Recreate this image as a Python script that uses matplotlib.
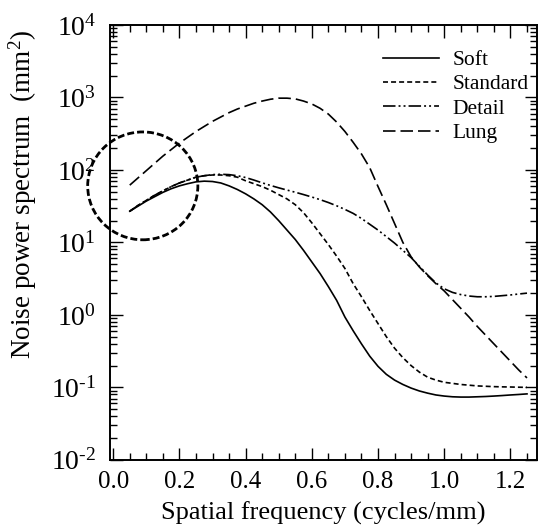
import matplotlib
matplotlib.use("Agg")
import matplotlib.pyplot as plt
from matplotlib.patches import Ellipse

plt.rcParams['font.family'] = ['Liberation Serif', 'DejaVu Serif']
plt.rcParams['mathtext.fontset'] = 'custom'
plt.rcParams['mathtext.rm'] = 'Liberation Serif'
plt.rcParams['mathtext.it'] = 'Liberation Serif:italic'
plt.rcParams['lines.scale_dashes'] = False

# spatial frequency samples (cycles/mm)
freq = [0.050, 0.075, 0.100, 0.125, 0.150, 0.175, 0.200, 0.225, 0.250, 0.275,
        0.300, 0.325, 0.350, 0.375, 0.400, 0.425, 0.450, 0.475, 0.500, 0.525,
        0.550, 0.575, 0.600, 0.625, 0.650, 0.675, 0.700, 0.725, 0.750, 0.775,
        0.800, 0.825, 0.850, 0.875, 0.900, 0.925, 0.950, 0.975, 1.000, 1.025,
        1.050, 1.075, 1.100, 1.125, 1.150, 1.175, 1.200, 1.225, 1.250]

# NPS values, stored as log10(mm^2)
log_soft = [1.43, 1.50, 1.57, 1.63, 1.69, 1.74, 1.78, 1.81, 1.835, 1.845,
            1.84, 1.82, 1.78, 1.73, 1.67, 1.60, 1.52, 1.42, 1.30, 1.17,
            1.04, 0.89, 0.73, 0.57, 0.39, 0.20, -0.03, -0.22, -0.40, -0.57,
            -0.71, -0.82, -0.90, -0.96, -1.01, -1.05, -1.08, -1.105, -1.12, -1.13,
            -1.134, -1.134, -1.13, -1.126, -1.12, -1.113, -1.105, -1.098, -1.09]
log_standard = [1.43, 1.51, 1.58, 1.65, 1.71, 1.77, 1.82, 1.86, 1.90, 1.92,
                1.93, 1.93, 1.92, 1.90, 1.85, 1.81, 1.77, 1.72, 1.66, 1.60,
                1.52, 1.41, 1.27, 1.12, 0.97, 0.81, 0.64, 0.43, 0.25, 0.06,
                -0.12, -0.30, -0.46, -0.59, -0.70, -0.79, -0.86, -0.90, -0.93, -0.945,
                -0.96, -0.97, -0.98, -0.985, -0.99, -0.993, -0.995, -0.998, -1.00]
log_detail = [1.43, 1.51, 1.58, 1.65, 1.71, 1.77, 1.82, 1.86, 1.90, 1.92,
              1.935, 1.94, 1.935, 1.92, 1.895, 1.86, 1.822, 1.786, 1.753, 1.722,
              1.692, 1.66, 1.626, 1.59, 1.55, 1.505, 1.455, 1.40, 1.33, 1.25,
              1.17, 1.08, 0.99, 0.89, 0.79, 0.67, 0.55, 0.44, 0.36, 0.31,
              0.28, 0.26, 0.25, 0.25, 0.255, 0.265, 0.275, 0.288, 0.30]
log_lung = [1.79, 1.89, 1.99, 2.09, 2.19, 2.28, 2.37, 2.45, 2.53, 2.60,
            2.67, 2.73, 2.79, 2.84, 2.88, 2.92, 2.95, 2.975, 2.99, 2.99,
            2.98, 2.95, 2.91, 2.85, 2.77, 2.66, 2.53, 2.38, 2.22, 2.03,
            1.77, 1.52, 1.26, 1.00, 0.80, 0.66, 0.54, 0.43, 0.33, 0.21,
            0.09, -0.03, -0.16, -0.28, -0.40, -0.52, -0.64, -0.76, -0.87]

nps_soft = [10 ** v for v in log_soft]
nps_standard = [10 ** v for v in log_standard]
nps_detail = [10 ** v for v in log_detail]
nps_lung = [10 ** v for v in log_lung]

labels = ['Soft', 'Standard', 'Detail', 'Lung']
y_ticks = [1e-2, 1e-1, 1e0, 1e1, 1e2, 1e3, 1e4]
y_ticklabels = [r'$\mathregular{10^{‐2}}$', r'$\mathregular{10^{‐1}}$',
                r'$\mathregular{10^{0}}$', r'$\mathregular{10^{1}}$',
                r'$\mathregular{10^{2}}$', r'$\mathregular{10^{3}}$',
                r'$\mathregular{10^{4}}$']
x_ticks = [0.0, 0.2, 0.4, 0.6, 0.8, 1.0, 1.2]

fig = plt.figure(figsize=(5.44, 5.31), dpi=100)
ax = fig.add_axes([0.202, 0.134, 0.785, 0.819])

lw = 1.2
ax.plot(freq, nps_soft, color='black', lw=lw, label=labels[0])
ax.plot(freq, nps_standard, color='black', lw=lw, label=labels[1],
        dashes=(3.6, 2.2))
ax.plot(freq, nps_detail, color='black', lw=lw, label=labels[2],
        dashes=(9, 2.2, 1.4, 2.2, 1.4, 2.2))
ax.plot(freq, nps_lung, color='black', lw=lw, label=labels[3],
        dashes=(9, 3.6))

ax.set_yscale('log')
ax.set_ylim(1e-2, 1e4)
ax.set_xlim(-0.01, 1.28)
ax.set_yticks(y_ticks)
ax.set_yticklabels(y_ticklabels)
ax.set_xticks(x_ticks)
ax.set_xticklabels(['%.1f' % t for t in x_ticks])
ax.xaxis.set_minor_locator(matplotlib.ticker.MultipleLocator(0.05))
ax.yaxis.set_minor_locator(matplotlib.ticker.LogLocator(base=10, subs=range(2, 10), numticks=20))
ax.yaxis.set_minor_formatter(matplotlib.ticker.NullFormatter())

ax.tick_params(which='both', direction='in', top=True, right=True,
               width=1.0, colors='black')
ax.tick_params(which='major', length=9)
ax.tick_params(which='minor', length=5)
ax.tick_params(axis='x', pad=8, labelsize=18)
ax.tick_params(axis='y', pad=10, labelsize=20)
for s in ax.spines.values():
    s.set_linewidth(1.4)

ax.set_xlabel('Spatial frequency (cycles/mm)', fontsize=19, labelpad=6)
ax.set_ylabel(r'Noise power spectrum  (mm$^{\mathregular{2}}$)', fontsize=19.5)
ax.yaxis.set_label_coords(-0.165, 0.61)

# highlighted low-frequency region
circ = Ellipse((0.077, 0.63), 0.258, 0.248, transform=ax.transAxes,
               fill=False, edgecolor='black', lw=2.0, linestyle=(0, (5, 2.2)),
               clip_on=False)
ax.add_patch(circ)

ax.legend(loc='upper right', bbox_to_anchor=(1.015, 0.977), frameon=False,
          fontsize=15.5, handlelength=2.6, handletextpad=0.6, labelspacing=0.2,
          borderaxespad=0.3)

fig.savefig('out.png', dpi=100)
